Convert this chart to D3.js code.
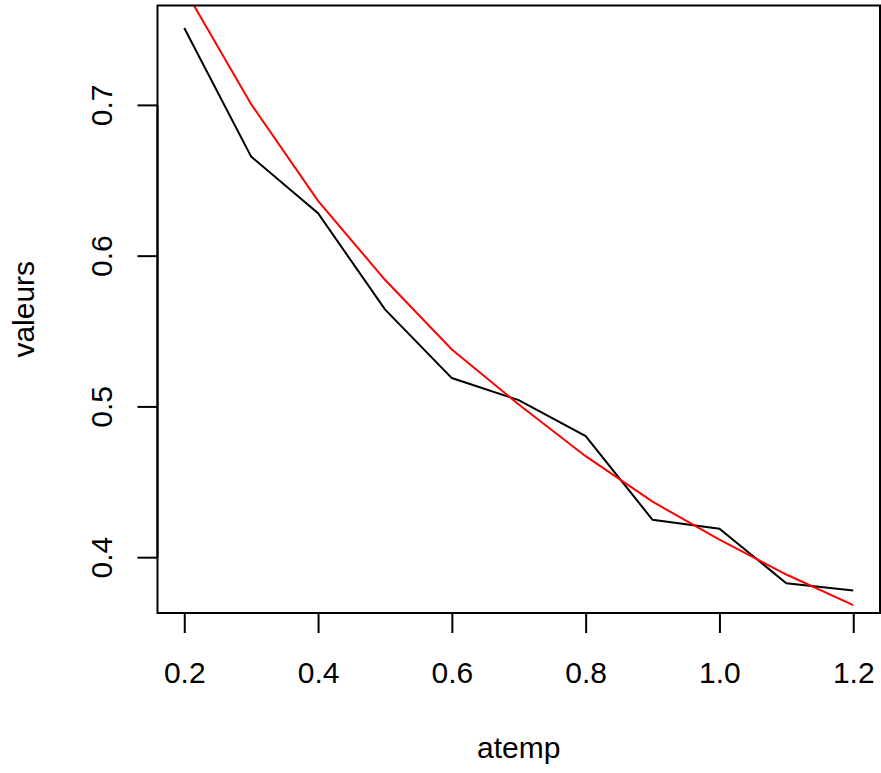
<!DOCTYPE html>
<meta charset="utf-8">
<style>
body { margin: 0; background: #fff; }
svg { display: block; font-family: "Liberation Sans", Arial, Helvetica, sans-serif; }
.axis path, .axis line { stroke: #000; stroke-width: 2; }
.axis text { font-size: 30px; fill: #000; }
.lab { font-size: 30px; fill: #000; }
</style>
<svg width="881" height="773"></svg>
<script src="https://d3js.org/d3.v7.min.js"></script>
<script>

var atemp = [0.2, 0.3, 0.4, 0.5, 0.6, 0.7, 0.8, 0.9, 1.0, 1.1, 1.2];
// black: observed values
var valeurs = [0.751, 0.6657, 0.6281, 0.5644, 0.5188, 0.5042, 0.4803, 0.4248, 0.4189, 0.3827, 0.3779];
// red: fitted curve
var ajuste = [0.777, 0.7005, 0.6363, 0.584, 0.5378, 0.5013, 0.467, 0.4368, 0.4117, 0.3885, 0.3682];

var xTicks = [0.2, 0.4, 0.6, 0.8, 1.0, 1.2];
var yTicks = [0.4, 0.5, 0.6, 0.7];

var svg = d3.select("svg");

var mLeft = 157.5, mRight = 880, mTop = 5.5, mBottom = 613;

// R style: data range + 4% on each side
function pad(ext) {
  var d = (ext[1] - ext[0]) * 0.04;
  return [ext[0] - d, ext[1] + d];
}

var x = d3.scaleLinear()
    .domain(pad(d3.extent(atemp)))
    .range([mLeft, mRight]);

var y = d3.scaleLinear()
    .domain(pad(d3.extent(valeurs)))
    .range([mBottom, mTop]);

svg.append("clipPath")
    .attr("id", "clip")
  .append("rect")
    .attr("x", mLeft).attr("y", mTop)
    .attr("width", mRight - mLeft).attr("height", mBottom - mTop);

var line = d3.line()
    .x(function(d, i) { return x(atemp[i]); })
    .y(function(d) { return y(d); });

svg.append("path")
    .datum(valeurs)
    .attr("fill", "none")
    .attr("stroke", "#000")
    .attr("stroke-width", 2)
    .attr("clip-path", "url(#clip)")
    .attr("d", line);

svg.append("path")
    .datum(ajuste)
    .attr("fill", "none")
    .attr("stroke", "#ff0000")
    .attr("stroke-width", 2)
    .attr("clip-path", "url(#clip)")
    .attr("d", line);

// box
svg.append("rect")
    .attr("x", mLeft).attr("y", mTop)
    .attr("width", mRight - mLeft).attr("height", mBottom - mTop)
    .attr("fill", "none")
    .attr("stroke", "#000")
    .attr("stroke-width", 2);

var xAxis = svg.append("g")
    .attr("class", "axis")
    .attr("transform", "translate(0," + mBottom + ")")
    .call(d3.axisBottom(x).tickValues(xTicks).tickSize(20).tickSizeOuter(0)
      .tickFormat(d3.format(".1f")));
xAxis.select(".domain")
    .attr("d", "M" + x(xTicks[0]) + ",0H" + x(xTicks[xTicks.length - 1]));
xAxis.selectAll("text")
    .attr("y", 70)
    .attr("dy", 0);

var yAxis = svg.append("g")
    .attr("class", "axis")
    .attr("transform", "translate(" + mLeft + ",0)")
    .call(d3.axisLeft(y).tickValues(yTicks).tickSize(20).tickSizeOuter(0)
      .tickFormat(d3.format(".1f")));
yAxis.select(".domain")
    .attr("d", "M0," + y(yTicks[0]) + "V" + y(yTicks[yTicks.length - 1]));
yAxis.selectAll("text")
    .attr("x", null)
    .attr("dy", 0)
    .attr("text-anchor", "middle")
    .attr("transform", "translate(-45.5,0) rotate(-90)");

svg.append("text")
    .attr("class", "lab")
    .attr("x", (mLeft + mRight) / 2)
    .attr("y", 758)
    .attr("text-anchor", "middle")
    .text("atemp");

svg.append("text")
    .attr("class", "lab")
    .attr("text-anchor", "middle")
    .attr("transform", "translate(34," + (mTop + mBottom) / 2 + ") rotate(-90)")
    .text("valeurs");

</script>
